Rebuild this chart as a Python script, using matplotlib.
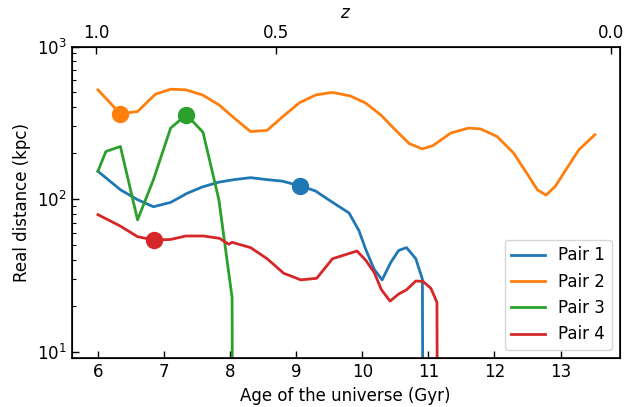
import numpy as np
import matplotlib
matplotlib.use("Agg")
import matplotlib.pyplot as plt

# ---------------- data ----------------
labels = ["Pair 1", "Pair 2", "Pair 3", "Pair 4"]

pair1_age = [6.0, 6.34, 6.6, 6.84, 7.1, 7.35, 7.58, 7.83, 8.06, 8.31, 8.56, 8.79, 9.06, 9.29,
             9.52, 9.8, 9.95, 10.05, 10.18, 10.3, 10.43, 10.55, 10.67, 10.81, 10.91, 10.92]
pair1_dist = [152, 115, 99, 89, 95, 109, 120, 129, 134, 138, 134, 131, 122, 113,
              97, 81, 62, 47, 34.6, 29.5, 38.3, 46, 48, 40.6, 29.8, 1]

pair2_age = [6.0, 6.34, 6.6, 6.87, 7.1, 7.33, 7.58, 7.83, 8.06, 8.31, 8.56, 8.79, 9.05, 9.3,
             9.55, 9.82, 10.05, 10.28, 10.5, 10.71, 10.91, 11.07, 11.34, 11.61, 11.79, 12.04,
             12.29, 12.47, 12.65, 12.78, 12.92, 13.1, 13.28, 13.52]
pair2_dist = [520, 362, 375, 487, 525, 520, 482, 415, 340, 277, 282, 345, 428, 482,
              500, 474, 426, 356, 284, 231, 213, 224, 271, 292, 288, 257,
              200, 152, 115, 106, 121, 160, 211, 264]

pair3_age = [6.0, 6.12, 6.34, 6.6, 6.84, 7.1, 7.34, 7.59, 7.83, 8.03, 8.04]
pair3_dist = [152, 205, 221, 73, 134, 292, 357, 274, 99, 22.6, 1]

pair4_age = [6.0, 6.34, 6.6, 6.85, 7.1, 7.33, 7.6, 7.84, 7.98, 8.03, 8.31, 8.56, 8.81, 9.07,
             9.31, 9.55, 9.92, 10.05, 10.18, 10.29, 10.42, 10.55, 10.67, 10.81, 10.92, 11.04,
             11.13, 11.14]
pair4_dist = [79, 66.4, 56.6, 53.8, 54.3, 57.2, 57.2, 55.2, 50.5, 52, 48, 40.6, 32.6, 29.5,
              30.2, 40.6, 45.6, 39.8, 33, 25.4, 21.4, 23.8, 25.4, 29, 28.8, 25.9,
              21, 1]

marker_index = [12, 1, 6, 3]

z_ticks = [1.0, 0.5, 0.0]
z_ticklabels = ["1.0", "0.5", "0.0"]

# ---------------- cosmology for top axis (flat LCDM) ----------------
H0 = 70.4
Om = 0.272
OL = 1 - Om
hubble_time = 977.8 / H0  # Gyr


def age_of_z(z):
    z = np.asarray(z, dtype=float)
    return (2.0 / (3.0 * np.sqrt(OL))) * hubble_time * np.arcsinh(
        np.sqrt(OL / Om) * (1 + z) ** -1.5)


# ---------------- plot ----------------
plt.rcParams['font.size'] = 12
fig = plt.figure(figsize=(6.25, 4.07), dpi=100)
ax = fig.add_axes([0.1144, 0.1192, 0.992 - 0.1144, 0.8857 - 0.1192])

ages = [pair1_age, pair2_age, pair3_age, pair4_age]
dists = [pair1_dist, pair2_dist, pair3_dist, pair4_dist]
colors = ["C0", "C1", "C2", "C3"]

for a, d, c, lab in zip(ages, dists, colors, labels):
    ax.plot(a, d, color=c, lw=2, label=lab)
for a, d, c, mi in zip(ages, dists, colors, marker_index):
    ax.plot([a[mi]], [d[mi]], 'o', color=c, ms=11.5, zorder=5)

ax.set_yscale('log')
ax.set_xlim(5.6, 13.9)
ax.set_ylim(9, 1000)
ax.set_xlabel("Age of the universe (Gyr)")
ax.set_ylabel("Real distance (kpc)")
ax.set_xticks([6, 7, 8, 9, 10, 11, 12, 13])
ax.tick_params(axis='both', which='major', direction='in', length=5, width=1)
ax.tick_params(axis='y', which='minor', direction='in', length=3, width=0.8)
ax.tick_params(top=False, right=False, which='both')
for s in ax.spines.values():
    s.set_linewidth(1.2)

ax.legend(loc='lower right')

ax2 = ax.twiny()
ax2.set_xlim(ax.get_xlim())
ax2.set_xticks(age_of_z(z_ticks))
ax2.set_xticklabels(z_ticklabels)
ax2.tick_params(axis='x', direction='in', length=5, width=1)
ax2.set_xlabel("$z$")

fig.savefig("out.png", dpi=100)
